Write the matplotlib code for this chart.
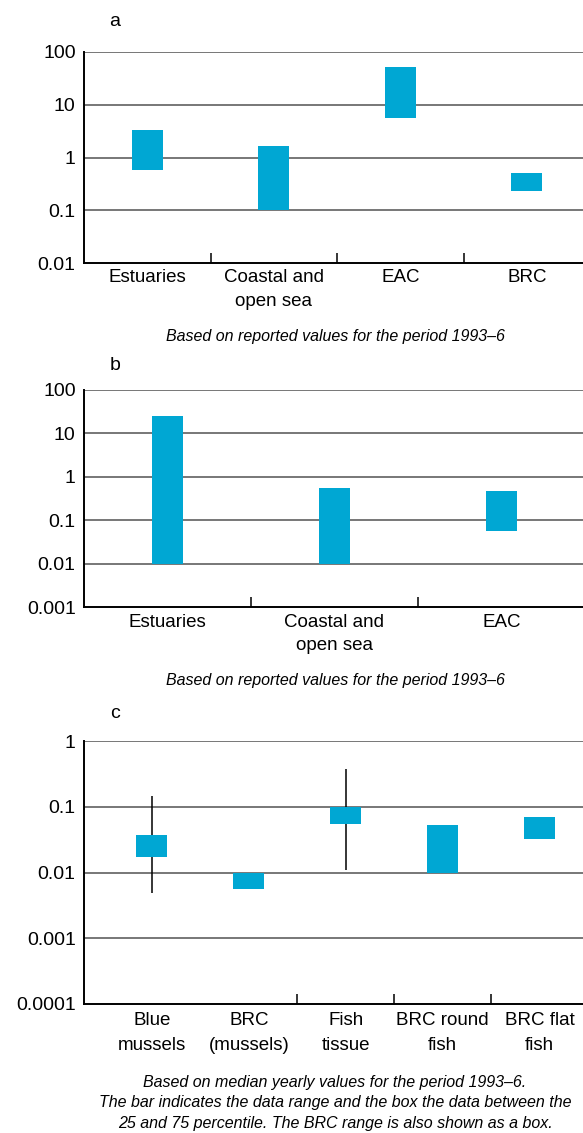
import numpy as np
import matplotlib.pyplot as plt
from matplotlib.ticker import FixedLocator, NullLocator

plt.rcParams['font.family'] = ['Liberation Sans Narrow', 'Liberation Sans', 'DejaVu Sans']

BOX_COLOR = "#00a7d3"
GRID_COLOR = "#777777"

# Panel a: concentration ranges in water
cats_a = ["Estuaries", "Coastal and\nopen sea", "EAC", "BRC"]
low_a = [0.58, 0.1, 5.6, 0.23]
high_a = [3.3, 1.65, 52, 0.51]

# Panel b: concentration ranges in sediment
cats_b = ["Estuaries", "Coastal and\nopen sea", "EAC"]
low_b = [0.01, 0.01, 0.057]
high_b = [25, 0.56, 0.48]

# Panel c: biota, boxes = 25-75 percentile (or BRC range), lines = data range
cats_c = ["Blue\nmussels", "BRC\n(mussels)", "Fish\ntissue", "BRC round\nfish", "BRC flat\nfish"]
box_low_c = [0.0174, 0.0056, 0.055, 0.01, 0.032]
box_high_c = [0.037, 0.01, 0.1, 0.053, 0.07]
range_low_c = [0.0048, None, 0.011, None, None]
range_high_c = [0.144, None, 0.375, None, None]

caption_ab = "Based on reported values for the period 1993\u20136"
caption_c = ("Based on median yearly values for the period 1993\u20136.\n"
             "The bar indicates the data range and the box the data between the\n"
             "25 and 75 percentile. The BRC range is also shown as a box.")

W, H = 583, 1133
fig = plt.figure(figsize=(W / 100, H / 100), dpi=100)


def make_axes(left, top, right, bottom):
    # pixel box -> figure fraction
    return fig.add_axes([left / W, 1 - bottom / H, (right - left) / W, (bottom - top) / H])


def style_axes(ax, decades, xlim, dividers, cats, xpos, spacing):
    ax.set_yscale("log")
    ax.set_ylim(decades[0], decades[-1])
    ax.set_xlim(*xlim)
    ax.yaxis.set_major_locator(FixedLocator(decades))
    ax.yaxis.set_minor_locator(NullLocator())
    ax.set_yticklabels([("%g" % d) if d >= 0.001 else "0.0001" for d in decades])
    for d in decades[1:]:
        ax.axhline(d, color=GRID_COLOR, lw=1.4, zorder=1)
    for s in ["top", "right"]:
        ax.spines[s].set_visible(False)
    for s in ["left", "bottom"]:
        ax.spines[s].set_linewidth(1.4)
        ax.spines[s].set_color("black")
    ax.tick_params(axis="y", length=0, pad=6, labelsize=14)
    ax.set_xticks(dividers)
    ax.set_xticklabels([])
    ax.tick_params(axis="x", direction="in", length=7, width=1.1)
    for x, c in zip(xpos, cats):
        ax.text(x, -0.03, c, transform=ax.get_xaxis_transform(), ha="center", va="top",
                fontsize=13.5, linespacing=spacing)


# ---- a ----
ax_a = make_axes(84, 52, 590, 263)
xa = np.arange(len(cats_a))
style_axes(ax_a, [0.01, 0.1, 1, 10, 100], (-0.5, 3.5), [0.5, 1.5, 2.5], cats_a, xa, 1.5)
ax_a.bar(xa, np.array(high_a) - np.array(low_a), bottom=low_a, width=0.245,
         color=BOX_COLOR, zorder=3)
fig.text(115 / W, 1 - 22 / H, "a", fontsize=14, va="center", ha="center")
fig.text(335 / W, 1 - 337 / H, caption_ab, fontsize=11.5, style="italic", ha="center", va="center")

# ---- b ----
ax_b = make_axes(84, 390, 585, 607)
xb = np.arange(len(cats_b))
style_axes(ax_b, [0.001, 0.01, 0.1, 1, 10, 100], (-0.5, 2.5), [0.5, 1.5], cats_b, xb, 1.5)
ax_b.bar(xb, np.array(high_b) - np.array(low_b), bottom=low_b, width=0.185,
         color=BOX_COLOR, zorder=3)
fig.text(115 / W, 1 - 366 / H, "b", fontsize=14, va="center", ha="center")
fig.text(335 / W, 1 - 681 / H, caption_ab, fontsize=11.5, style="italic", ha="center", va="center")

# ---- c ----
ax_c = make_axes(84, 741, 588, 1004)
xc = np.arange(len(cats_c))
style_axes(ax_c, [0.0001, 0.001, 0.01, 0.1, 1], (-0.7, 4.5), [1.5, 2.5, 3.5], cats_c, xc, 1.6)
for x, lo, hi in zip(xc, range_low_c, range_high_c):
    if lo is not None:
        ax_c.vlines(x, lo, hi, color="black", lw=1.1, zorder=2)
ax_c.bar(xc, np.array(box_high_c) - np.array(box_low_c), bottom=box_low_c, width=0.32,
         color=BOX_COLOR, zorder=3)
fig.text(115 / W, 1 - 713 / H, "c", fontsize=14, va="center", ha="center")
fig.text(335 / W, 1 - 1103 / H, caption_c, fontsize=11.5, style="italic", ha="center",
         va="center", linespacing=1.45)

fig.savefig("out.png", dpi=100, facecolor="white")
